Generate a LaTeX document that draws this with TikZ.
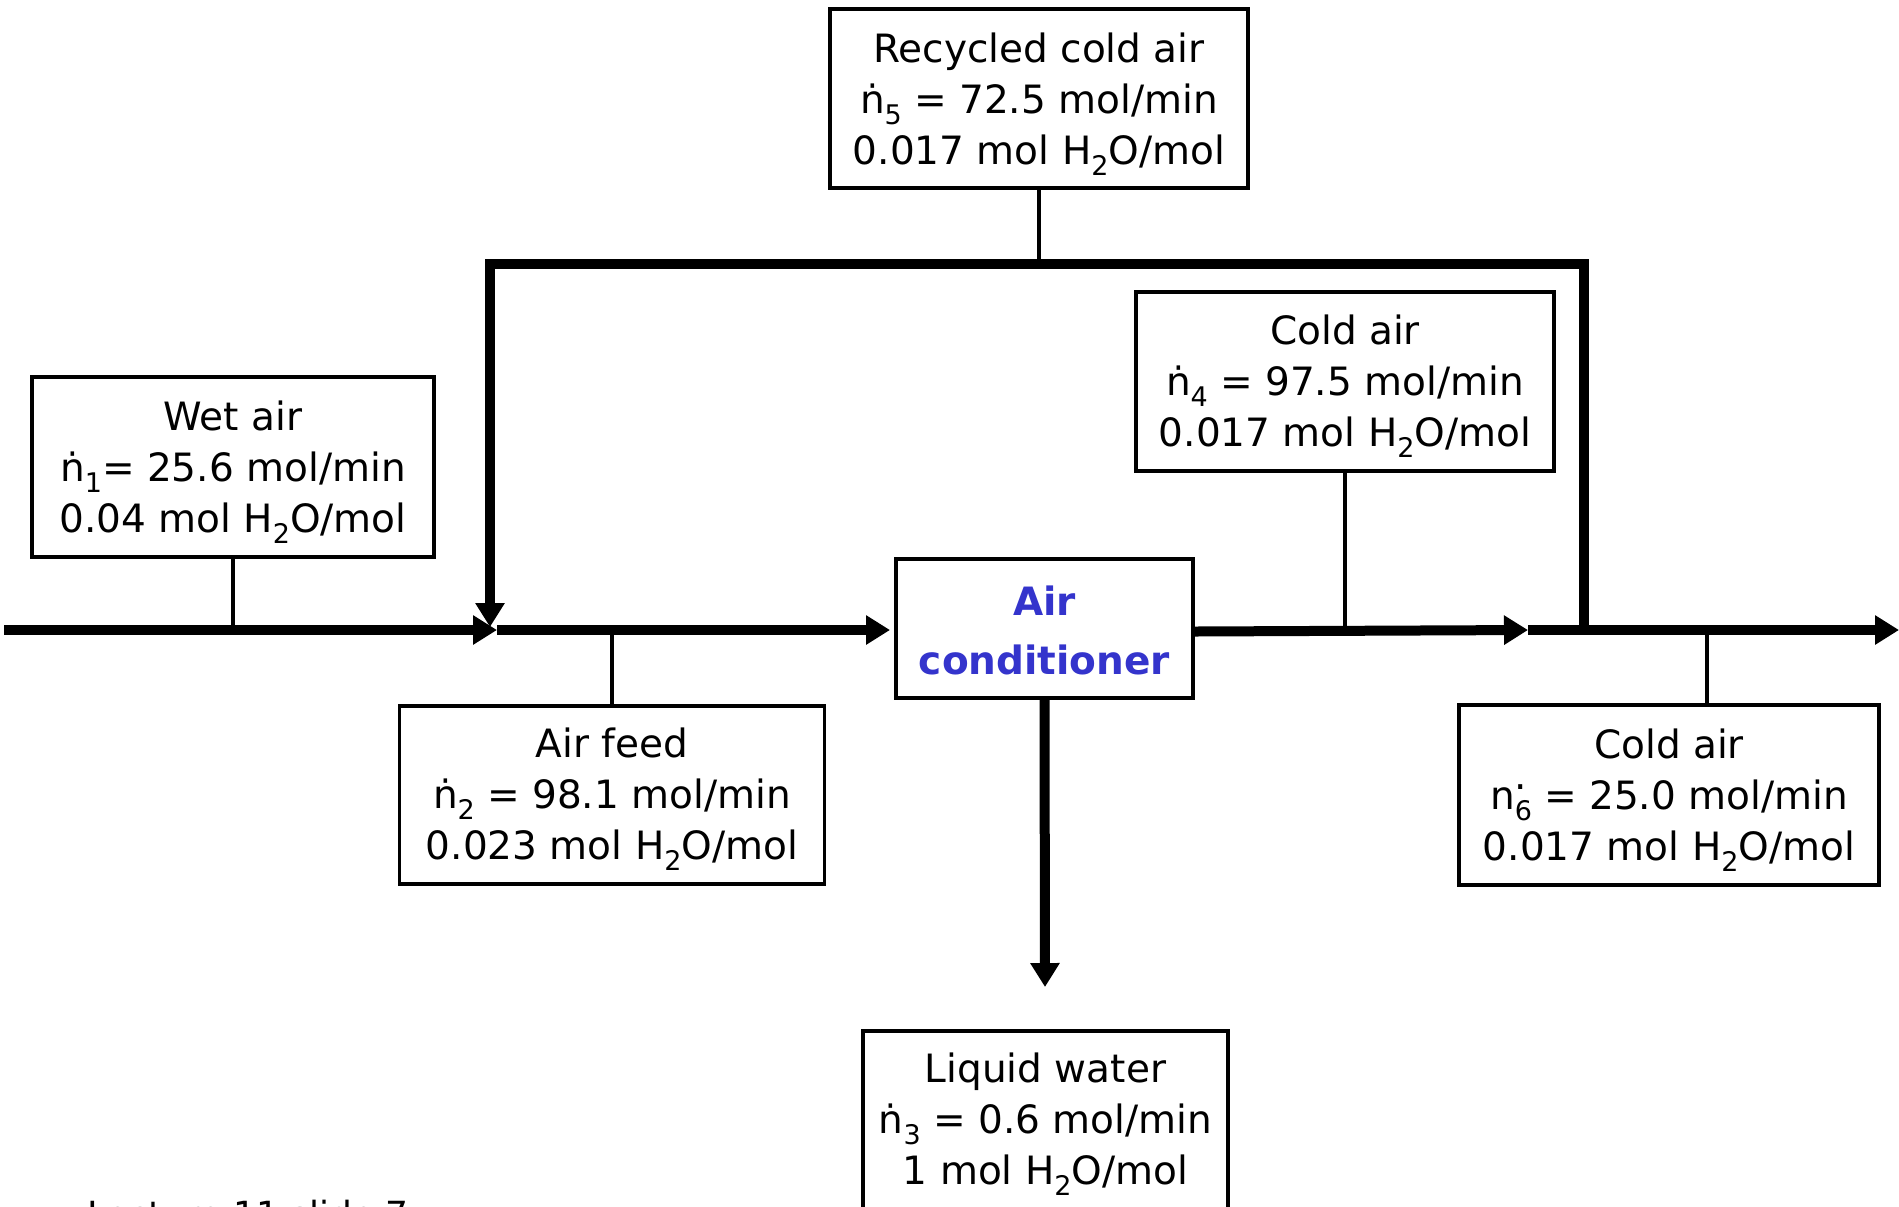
\documentclass[tikz,border=0pt]{standalone}
\usepackage{fontspec}
\setmainfont{DejaVu Sans}
\usetikzlibrary{arrows.meta}
\definecolor{acblue}{RGB}{52,52,204}
\newcommand\mysub[1]{\raisebox{-0.28em}{\fontsize{13.5}{13.5}\selectfont #1}}
\newcommand\topstrut[1]{\rule{0pt}{#1}}
\begin{document}
\begin{tikzpicture}[x=0.5pt,y=-0.5pt,
  box/.style={draw, line width=1.75pt, inner sep=0pt, align=center, font=\fontsize{19.5}{25.5}\selectfont},
  flow/.style={line width=5pt, line join=miter, -{Triangle[length=12pt,width=14pt]}},
  stem/.style={line width=2pt}]
\useasboundingbox (0,0) rectangle (1899,1206);
% boxes
\node[box, minimum width=209pt, minimum height=89.5pt] (rec) at (1039,98.5)
  {\topstrut{20.6pt}Recycled cold air\\ṅ\mysub{5} = 72.5 mol/min\\0.017 mol H\mysub{2}O/mol};
\node[box, minimum width=201pt, minimum height=90pt] (wet) at (233,467)
  {\topstrut{19.6pt}Wet air\\ṅ\mysub{1}= 25.6 mol/min\\0.04 mol H\mysub{2}O/mol};
\node[box, minimum width=212.5pt, minimum height=89pt] (feed) at (612,795)
  {\topstrut{19pt}Air feed\\ṅ\mysub{2} = 98.1 mol/min\\0.023 mol H\mysub{2}O/mol};
\node[box, minimum width=148.5pt, minimum height=69.5pt, font=\bfseries\fontsize{19.5}{29.5}\selectfont, text=acblue] (ac) at (1044.5,628.5)
  {\topstrut{17pt}Air\\conditioner};
\node[box, minimum width=209pt, minimum height=89.5pt] (cold4) at (1345,381.5)
  {\topstrut{19.4pt}Cold air\\ṅ\mysub{4} = 97.5 mol/min\\0.017 mol H\mysub{2}O/mol};
\node[box, minimum width=210pt, minimum height=90pt] (cold6) at (1669,795)
  {\topstrut{19.6pt}Cold air\\n\rlap{\raisebox{0.5em}{.}}\mysub{6} = 25.0 mol/min\\0.017 mol H\mysub{2}O/mol};
\node[box, minimum width=182.5pt, minimum height=90pt] (water) at (1045.5,1121)
  {\topstrut{18.4pt}Liquid water\\ṅ\mysub{3} = 0.6 mol/min\\1 mol H\mysub{2}O/mol};
\node[anchor=base west, inner sep=0pt, font=\fontsize{18}{18}\selectfont] (lec) at (87,1227) {Lecture 11 slide 7};
% coordinates
\coordinate (in) at (4,630);
\coordinate (J1) at (497,630);
\coordinate (JV) at (490,627);
\coordinate (acin) at (890,630);
\coordinate (J2) at (1528,630);
\coordinate (R) at (1584,630);
\coordinate (out) at (1899,630);
\coordinate (TL) at (490,264);
\coordinate (TR) at (1584,264);
\coordinate (W) at (1045,987);
% flows
\draw[flow] (in) -- (J1);
\draw[flow] (J1) -- (acin);
\draw[flow] ([yshift=-1.5pt]ac.east) -- (J2);
\draw[flow] (J2) -- (out);
\draw[flow] (R) -- (TR) -- (TL) -- (JV);
\draw[flow] (ac.south) -- (W);
% stems
\draw[stem] (wet.south) -- (wet.south |- in);
\draw[stem] (rec.south) -- (rec.south |- TL);
\draw[stem] (cold4.south) -- (cold4.south |- in);
\draw[stem] (feed.north) -- (feed.north |- in);
\draw[stem] ([xshift=19pt]cold6.north) -- ([xshift=19pt]cold6.north |- in);
\end{tikzpicture}
\end{document}
